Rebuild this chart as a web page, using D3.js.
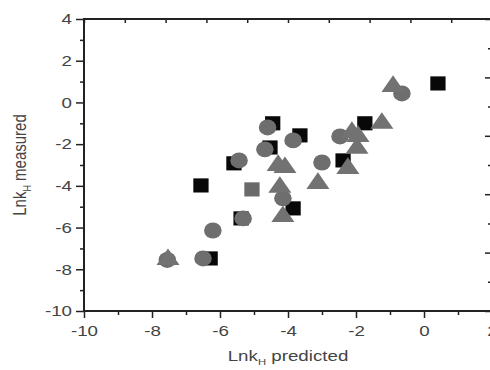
<!DOCTYPE html>
<html>
<head>
<meta charset="utf-8">
<script src="https://cdn.jsdelivr.net/npm/d3@7"></script>
<style>
  body { margin: 0; background: #fff; }
  text { font-family: "Liberation Sans", Arial, sans-serif; fill: #444; }
</style>
</head>
<body>
<div id="viz"></div>
<script>
const W = 490, H = 370;
const xs = 1.25; // the picture is stretched sideways, so text is too

// black squares
const sqX = [-6.56, -4.45, -3.65, -4.53, -5.59, -3.85, -5.38, -6.29, 0.41, -1.74, -2.38];
const sqY = [-3.98, -1.0, -1.58, -2.16, -2.92, -5.08, -5.56, -7.48, 0.91, -1.0, -2.78];
// grey square
const gsqX = [-5.06];
const gsqY = [-4.17];
// grey circles
const ciX = [-4.6, -3.85, -4.68, -5.44, -3.0, -4.15, -5.32, -6.21, -6.5, -7.55, -0.65, -2.47];
const ciY = [-1.2, -1.82, -2.25, -2.78, -2.88, -4.6, -5.56, -6.14, -7.48, -7.55, 0.43, -1.63];
// grey triangles
const trX = [-0.91, -1.24, -2.12, -1.94, -1.97, -2.24, -3.12, -4.29, -4.09, -4.24, -4.15, -7.53];
const trY = [0.77, -1.0, -1.44, -1.63, -2.2, -3.16, -3.88, -3.02, -3.12, -4.07, -5.47, -7.53];

const xMajor = [-10, -8, -6, -4, -2, 0, 2];
const xMinor = [-9, -7, -5, -3, -1, 1];
const yMajor = [-10, -8, -6, -4, -2, 0, 2, 4];
const yMinor = [-9, -7, -5, -3, -1, 1, 3];

const pL = 84, pR = 492, pT = 19, pB = 311;

const x = d3.scaleLinear().domain([-10, 2]).range([pL, pR]);
const y = d3.scaleLinear().domain([-10, 4]).range([pB, pT]);
// top and right frame ticks don't follow the data scales
const xt = d3.scaleLinear().domain([0, 10]).range([pL, pR]);
const yr = d3.scaleLinear().domain([0, 10]).range([pB, pT]);

const fmt = d => String(d); // plain hyphen, like the original

const svg = d3.select('#viz').append('svg')
    .attr('width', W)
    .attr('height', H);

function styleAxis(g) {
    g.select('.domain').remove();
    g.selectAll('line').attr('stroke', '#222').attr('stroke-width', 1.5);
}

// minor ticks
svg.append('g').attr('transform', `translate(0,${pB})`)
    .call(d3.axisBottom(x).tickValues(xMinor).tickSize(4).tickFormat(''))
    .call(styleAxis);
svg.append('g').attr('transform', `translate(${pL},0)`)
    .call(d3.axisLeft(y).tickValues(yMinor).tickSize(4).tickFormat(''))
    .call(styleAxis);

// major ticks + labels
const gx = svg.append('g').attr('transform', `translate(0,${pB})`)
    .call(d3.axisBottom(x).tickValues(xMajor).tickSize(7).tickFormat(fmt))
    .call(styleAxis);
gx.selectAll('text')
    .attr('font-size', 15)
    .attr('transform', `scale(${xs},1)`)
    .attr('dy', '0.72em')
    .attr('y', 14);

const gy = svg.append('g').attr('transform', `translate(${pL},0)`)
    .call(d3.axisLeft(y).tickValues(yMajor).tickSize(8).tickFormat(fmt))
    .call(styleAxis);
gy.selectAll('text')
    .attr('font-size', 15)
    .attr('x', -12 / xs)
    .attr('transform', `scale(${xs},1)`);

// top ticks (inward)
svg.append('g').attr('transform', `translate(0,${pT})`)
    .call(d3.axisBottom(xt).ticks(10).tickSize(4).tickFormat(''))
    .call(styleAxis);

// right ticks (inward)
svg.append('g').attr('transform', `translate(${pR},0)`)
    .call(d3.axisLeft(yr).tickValues([1, 3, 5, 7, 9]).tickSize(4).tickFormat(''))
    .call(styleAxis);
svg.append('g').attr('transform', `translate(${pR},0)`)
    .call(d3.axisLeft(yr).tickValues([0, 2, 4, 6, 8, 10]).tickSize(7).tickFormat(''))
    .call(styleAxis);

// frame
svg.append('rect')
    .attr('x', pL).attr('y', pT)
    .attr('width', pR - pL).attr('height', pB - pT)
    .attr('fill', 'none')
    .attr('stroke', '#222')
    .attr('stroke-width', 2);

// markers
const sq = sqX.map((v, i) => [v, sqY[i]]);
const gsq = gsqX.map((v, i) => [v, gsqY[i]]);
const ci = ciX.map((v, i) => [v, ciY[i]]);
const tr = trX.map((v, i) => [v, trY[i]]);

function markers(data, type, size, fill, sx) {
    svg.append('g').selectAll('path')
        .data(data)
        .enter()
        .append('path')
        .attr('d', d3.symbol().type(type).size(size))
        .attr('transform', d => `translate(${x(d[0])},${y(d[1])}) scale(${sx},1)`)
        .attr('fill', fill);
}

markers(sq, d3.symbolSquare, 200, '#080808', 1.08);
markers(gsq, d3.symbolSquare, 200, '#6a6a6a', 1.08);
markers(ci, d3.symbolCircle, 200, '#6e6e6e', 1.1);
markers(tr, d3.symbolTriangle, 160, '#727272', 1.2);

// axis titles
const xl = svg.append('text')
    .attr('transform', `translate(${(pL + pR) / 2},361) scale(${xs},1)`)
    .attr('text-anchor', 'middle')
    .attr('font-size', 15);
xl.append('tspan').text('Lnk');
xl.append('tspan').attr('font-size', 9).attr('dy', 4).text('H');
xl.append('tspan').attr('dy', -4).text(' predicted');

const yl = svg.append('text')
    .attr('transform', `translate(26,${(pT + pB) / 2}) rotate(-90) scale(1,${xs})`)
    .attr('text-anchor', 'middle')
    .attr('font-size', 15);
yl.append('tspan').text('Lnk');
yl.append('tspan').attr('font-size', 9).attr('dy', 4).text('H');
yl.append('tspan').attr('dy', -4).text(' measured');
</script>
</body>
</html>
